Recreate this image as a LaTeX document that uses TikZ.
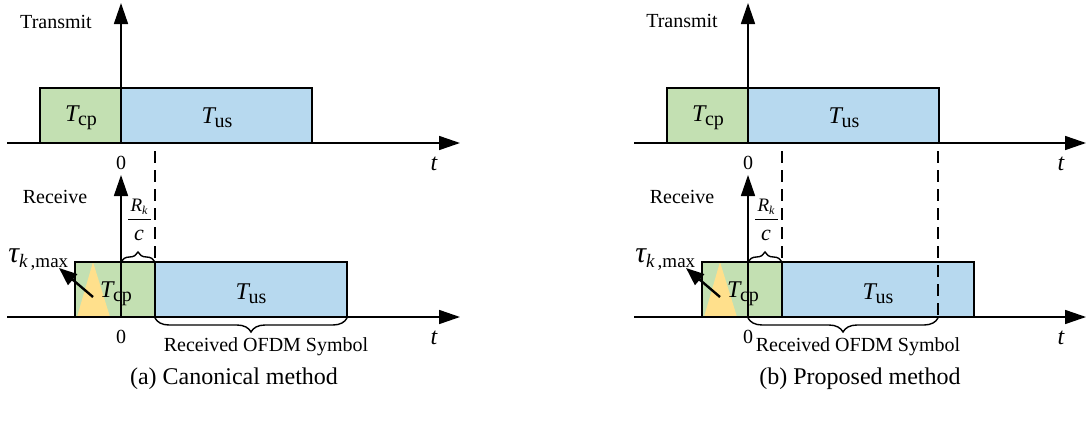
\documentclass[tikz,border=0pt]{standalone}
\usepackage{fontspec}
\setmainfont{Liberation Serif}
\usetikzlibrary{arrows.meta,decorations.pathreplacing}
\definecolor{cpgreen}{HTML}{C3E0B2}
\definecolor{usblue}{HTML}{B7D9EF}
\definecolor{tauyellow}{HTML}{FFE08C}
\newcommand{\Tsym}[1]{{\fontsize{12}{12}\selectfont\itshape T}\kern-0.2pt\raisebox{-2pt}{\fontsize{10}{10}\selectfont #1}}
\newcommand{\tausym}{{\fontsize{15}{15}\selectfont\itshape τ}\raisebox{-2.5pt}{\fontsize{9.5}{10}\selectfont\itshape k\,\upshape,max}}
\begin{document}
\begin{tikzpicture}[x=0.5pt,y=-0.5pt,
  axis/.style={line width=0.8pt,-{Triangle[length=10.5pt,width=7pt]}},
  boxline/.style={draw=black,line width=0.9pt},
  guide/.style={line width=0.7pt,dash pattern=on 6pt off 3.5pt},
  lbl/.style={inner sep=0pt,font=\fontsize{10}{12}\selectfont},
  tlbl/.style={inner sep=0pt,font=\fontsize{12}{12}\selectfont\itshape},
  boxlbl/.style={inner sep=0pt},
  brc/.style={decorate,decoration={brace,amplitude=#1},line width=0.7pt},
  tauarrow/.style={line width=1.2pt,-{Triangle[length=9pt,width=7pt]}},
  caplbl/.style={inner sep=0pt,font=\fontsize{12}{14}\selectfont},
]
\useasboundingbox (0,0) rectangle (1086,428);

% ================= (a) Canonical method =================
\filldraw[boxline,fill=cpgreen] (40,88) rectangle (121,143);
\filldraw[boxline,fill=usblue] (121,88) rectangle (312,143);
\node[boxlbl] (a-tcp) at (81,118) {\Tsym{cp}};
\node[boxlbl] (a-tus) at (217,118) {\Tsym{us}};
\coordinate (a-tx0) at (7,143); \coordinate (a-tx1) at (460,143);
\coordinate (a-ty0) at (121,143); \coordinate (a-ty1) at (121,3);
\draw[axis] (a-tx0) -- (a-tx1);
\draw[axis] (a-ty0) -- (a-ty1);
\node[lbl] (a-transmit) at (56,22) {Transmit};
\node[tlbl] (a-t1) at (434,164) {t};
\node[lbl] (a-zero1) at (121,163) {0};
\fill[cpgreen] (75,262) rectangle (155,317);
\fill[tauyellow] (77,317) -- (93,262) -- (110,317) -- cycle;
\draw[boxline] (75,262) rectangle (155,317);
\filldraw[boxline,fill=usblue] (155,262) rectangle (347,317);
\node[boxlbl] (a-rcp) at (116,294) {\Tsym{cp}};
\node[boxlbl] (a-rus) at (251,294) {\Tsym{us}};
\coordinate (a-rx0) at (7,317); \coordinate (a-rx1) at (460,317);
\coordinate (a-ry0) at (121,317); \coordinate (a-ry1) at (121,175);
\draw[axis] (a-rx0) -- (a-rx1);
\draw[axis] (a-ry0) -- (a-ry1);
\node[lbl] (a-receive) at (55,197) {Receive};
\node[tlbl] (a-t2) at (434,338) {t};
\node[lbl] (a-zero2) at (121,337) {0};
\coordinate (a-d0) at (155,151); \coordinate (a-d1) at (155,262);
\draw[guide] (a-d0) -- (a-d1);
\node[inner sep=0pt] (a-rk) at (139,207) {{\fontsize{9.5}{9}\selectfont\itshape R}\raisebox{-1.5pt}{\fontsize{6}{6}\selectfont\itshape k}};
\coordinate (a-bar0) at (128,219); \coordinate (a-bar1) at (151,219);
\draw[line width=0.5pt] (a-bar0) -- (a-bar1);
\node[inner sep=0pt,font=\fontsize{11}{11}\selectfont\itshape] (a-c) at (139,235) {c};
\coordinate (a-b0) at (121,262); \coordinate (a-b1) at (155,262);
\draw[brc=5pt] (a-b0) -- (a-b1);
\coordinate (a-s0) at (347,318); \coordinate (a-s1) at (155,318);
\draw[brc=7pt] (a-s0) -- (a-s1);
\node[inner sep=0pt,font=\fontsize{10}{12}\selectfont] (a-sym) at (266,347) {Received OFDM Symbol};
\node[inner sep=0pt,anchor=base west] (a-tau) at (8,262) {\tausym};
\coordinate (a-ta0) at (93,297); \coordinate (a-ta1) at (59,268);
\draw[tauarrow] (a-ta0) -- (a-ta1);
\node[caplbl] (a-cap) at (234,379) {(a) Canonical method};

% ================= (b) Proposed method =================
\filldraw[boxline,fill=cpgreen] (667,88) rectangle (748,143);
\filldraw[boxline,fill=usblue] (748,88) rectangle (939,143);
\node[boxlbl] (b-tcp) at (708,118) {\Tsym{cp}};
\node[boxlbl] (b-tus) at (844,118) {\Tsym{us}};
\coordinate (b-tx0) at (634,143); \coordinate (b-tx1) at (1086,143);
\coordinate (b-ty0) at (748,143); \coordinate (b-ty1) at (748,3);
\draw[axis] (b-tx0) -- (b-tx1);
\draw[axis] (b-ty0) -- (b-ty1);
\node[lbl] (b-transmit) at (682,21) {Transmit};
\node[tlbl] (b-t1) at (1061,164) {t};
\node[lbl] (b-zero1) at (748,163) {0};
\fill[cpgreen] (702,262) rectangle (782,317);
\fill[tauyellow] (704,317) -- (720,262) -- (737,317) -- cycle;
\draw[boxline] (702,262) rectangle (782,317);
\filldraw[boxline,fill=usblue] (782,262) rectangle (974,317);
\node[boxlbl] (b-rcp) at (743,294) {\Tsym{cp}};
\node[boxlbl] (b-rus) at (878,294) {\Tsym{us}};
\coordinate (b-rx0) at (634,317); \coordinate (b-rx1) at (1086,317);
\coordinate (b-ry0) at (748,317); \coordinate (b-ry1) at (748,175);
\draw[axis] (b-rx0) -- (b-rx1);
\draw[axis] (b-ry0) -- (b-ry1);
\node[lbl] (b-receive) at (682,197) {Receive};
\node[tlbl] (b-t2) at (1061,338) {t};
\node[lbl] (b-zero2) at (748,337) {0};
\coordinate (b-d0) at (782,151); \coordinate (b-d1) at (782,262);
\draw[guide] (b-d0) -- (b-d1);
\coordinate (b-e0) at (938,151); \coordinate (b-e1) at (938,320);
\draw[guide] (b-e0) -- (b-e1);
\node[inner sep=0pt] (b-rk) at (766,207) {{\fontsize{9.5}{9}\selectfont\itshape R}\raisebox{-1.5pt}{\fontsize{6}{6}\selectfont\itshape k}};
\coordinate (b-bar0) at (755,219); \coordinate (b-bar1) at (778,219);
\draw[line width=0.5pt] (b-bar0) -- (b-bar1);
\node[inner sep=0pt,font=\fontsize{11}{11}\selectfont\itshape] (b-c) at (766,235) {c};
\coordinate (b-b0) at (748,262); \coordinate (b-b1) at (782,262);
\draw[brc=5pt] (b-b0) -- (b-b1);
\coordinate (b-s0) at (938,318); \coordinate (b-s1) at (748,318);
\draw[brc=7pt] (b-s0) -- (b-s1);
\node[inner sep=0pt,font=\fontsize{10}{12}\selectfont] (b-sym) at (858,347) {Received OFDM Symbol};
\node[inner sep=0pt,anchor=base west] (b-tau) at (635,262) {\tausym};
\coordinate (b-ta0) at (720,297); \coordinate (b-ta1) at (686,268);
\draw[tauarrow] (b-ta0) -- (b-ta1);
\node[caplbl] (b-cap) at (860,379) {(b) Proposed method};
\end{tikzpicture}
\end{document}
